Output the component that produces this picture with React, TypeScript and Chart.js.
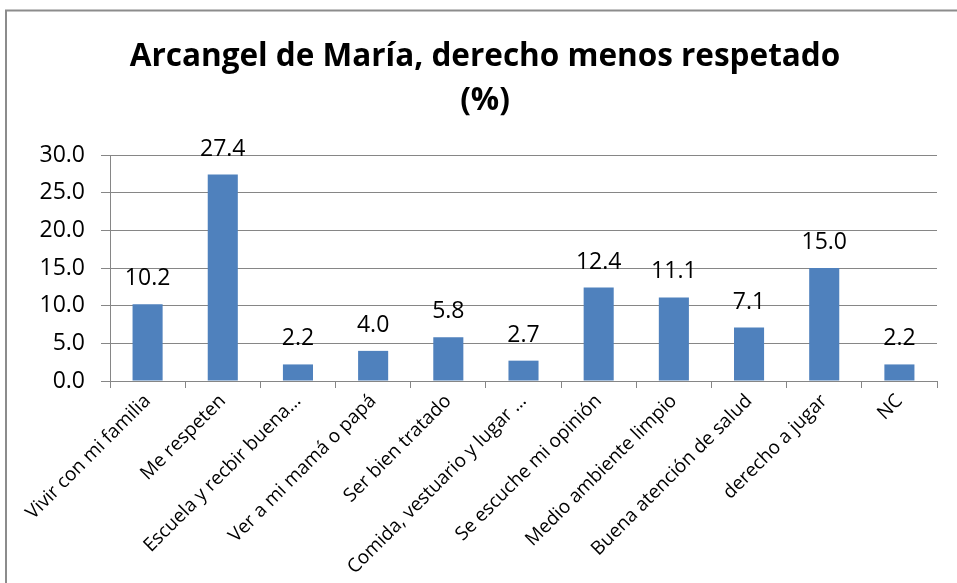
import { useEffect, useRef } from 'react';
import { Chart, registerables } from 'chart.js';

Chart.register(...registerables);

const categories = [
  'Vivir con mi familia',
  'Me respeten',
  'Escuela y recbir buena…',
  'Ver a mi mamá o papá',
  'Ser bien tratado',
  'Comida, vestuario y lugar …',
  'Se escuche mi opinión',
  'Medio ambiente limpio',
  'Buena atención de salud',
  'derecho a jugar',
  'NC',
];
const values = [10.2, 27.4, 2.2, 4.0, 5.8, 2.7, 12.4, 11.1, 7.1, 15.0, 2.2];
const titleLines = ['Arcangel de María, derecho menos respetado', '(%)'];
const yMin = 0;
const yMax = 30;
const yStep = 5;

const FONT = "'Open Sans', 'Noto Sans', sans-serif";
const GRID = '#868686';
const BAR = '#4F81BD';

const borderPlugin = {
  id: 'outerBorder',
  beforeDraw(chart: any) {
    const ctx = chart.ctx;
    ctx.save();
    ctx.fillStyle = '#ffffff';
    ctx.fillRect(0, 0, chart.width, chart.height);
    ctx.strokeStyle = '#8c8c8c';
    ctx.lineWidth = 2;
    ctx.strokeRect(6, 10.5, 1200, 1200);
    ctx.restore();
  },
};

const labelPlugin = {
  id: 'valueLabels',
  afterDatasetsDraw(chart: any) {
    const ctx = chart.ctx;
    const meta = chart.getDatasetMeta(0);
    ctx.save();
    ctx.font = `23px ${FONT}`;
    ctx.fillStyle = '#000000';
    ctx.textAlign = 'center';
    ctx.textBaseline = 'alphabetic';
    meta.data.forEach((el: any, i: number) => {
      ctx.fillText(values[i].toFixed(1), el.x, el.y - 19);
    });
    ctx.restore();
  },
};

export default function App() {
  const ref = useRef<HTMLCanvasElement>(null);
  useEffect(() => {
    const chart = new Chart(ref.current!, {
      type: 'bar',
      data: {
        labels: categories,
        datasets: [
          {
            data: values,
            backgroundColor: BAR,
            borderWidth: 0,
            barPercentage: 0.4,
            categoryPercentage: 1,
          },
        ],
      },
      options: {
        responsive: false,
        animation: false,
        devicePixelRatio: 1,
        layout: { padding: { left: 33, right: 20, top: 0, bottom: 0 } },
        plugins: {
          legend: { display: false },
          tooltip: { enabled: false },
          title: {
            display: true,
            text: titleLines,
            color: '#000000',
            font: { family: FONT, size: 31.5, weight: 'bold', lineHeight: 44 / 31.5 },
            padding: { top: 35, bottom: 32 },
          },
        },
        scales: {
          x: {
            grid: {
              drawOnChartArea: false,
              drawTicks: true,
              tickLength: 7,
              color: GRID,
              offset: true,
            },
            border: { color: GRID, width: 1 },
            ticks: {
              autoSkip: false,
              maxRotation: 45,
              minRotation: 45,
              color: '#000000',
              font: { family: FONT, size: 19 },
              padding: 2,
            },
            afterFit: (s: any) => {
              s.height = 202;
            },
          },
          y: {
            min: yMin,
            max: yMax,
            ticks: {
              stepSize: yStep,
              callback: (v: any) => Number(v).toFixed(1),
              color: '#000000',
              font: { family: FONT, size: 23 },
              padding: 16,
            },
            grid: { color: GRID, lineWidth: 1, tickLength: 9, drawTicks: true },
            border: { color: GRID, width: 1 },
            afterFit: (s: any) => {
              s.width = 77;
            },
          },
        },
      },
      plugins: [borderPlugin, labelPlugin],
    } as any);
    return () => chart.destroy();
  }, []);
  return (
    <div style={{ position: 'fixed', left: 0, top: 0, width: 957, height: 583, background: '#fff' }}>
      <canvas ref={ref} width={957} height={583} style={{ display: 'block', width: 957, height: 583 }} />
    </div>
  );
}
